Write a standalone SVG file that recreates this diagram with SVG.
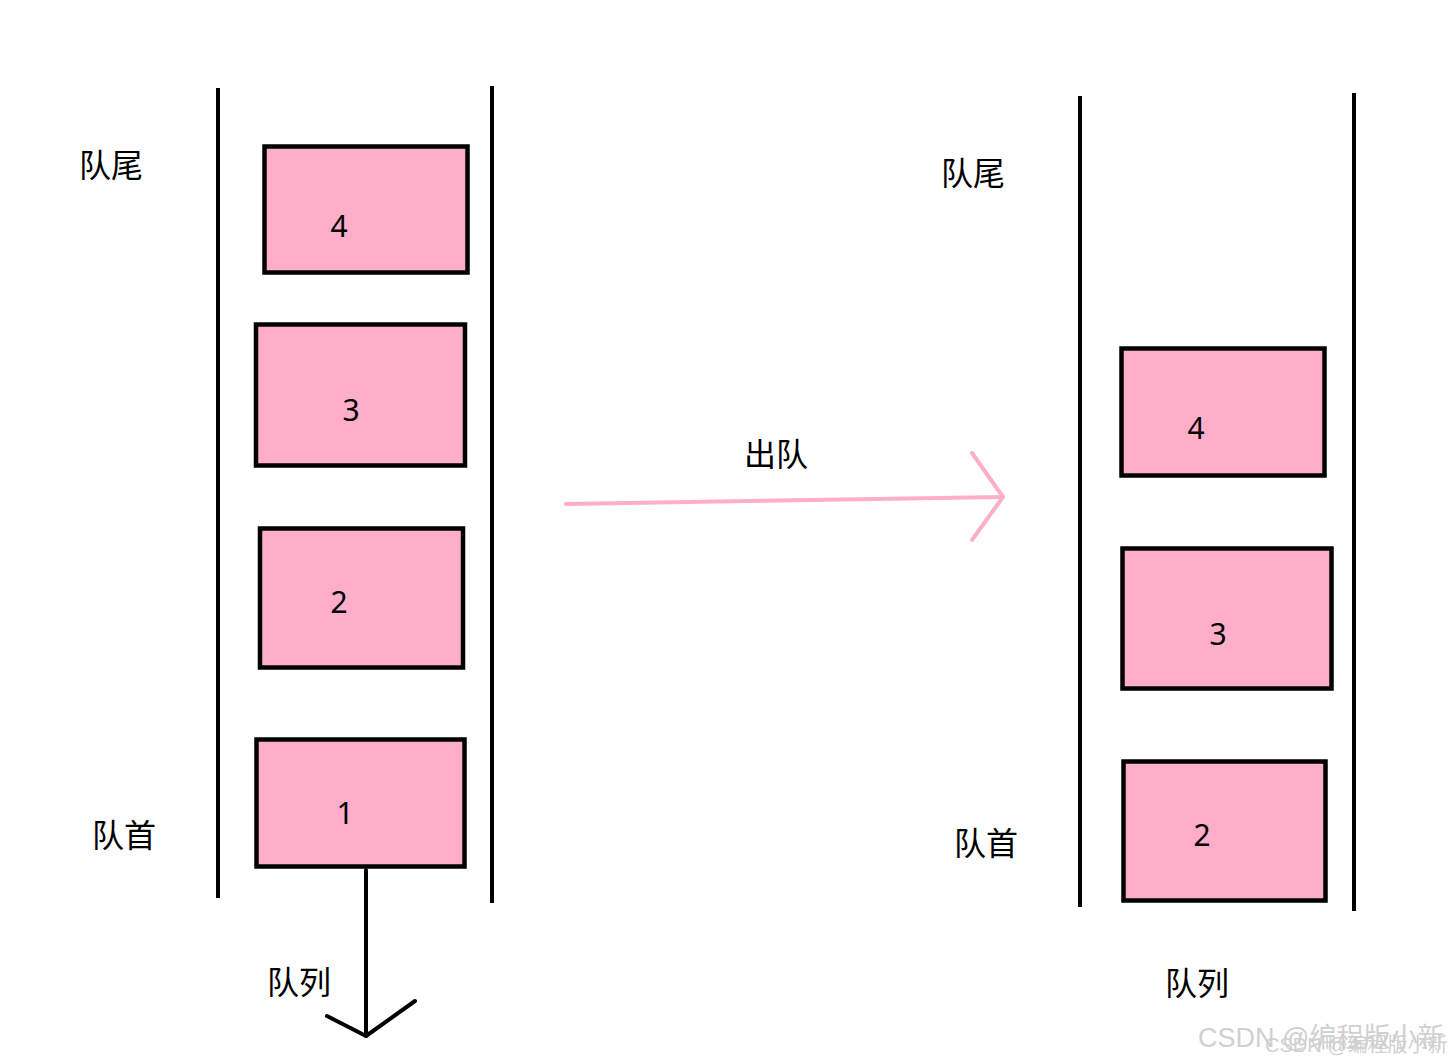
<svg xmlns="http://www.w3.org/2000/svg" width="1452" height="1064" viewBox="0 0 1452 1064">
<style>
.box{fill:#FFAEC9;stroke:#000;stroke-width:4.5}
.wall{stroke:#000;stroke-width:4;fill:none}
.lbl{font-family:"Noto Sans CJK SC","Noto Sans",sans-serif;font-size:32px;fill:#000}
.num{font-family:"Noto Sans","DejaVu Sans",sans-serif;font-size:30px;fill:#000;text-anchor:middle}
.wm{font-family:"Liberation Sans","Noto Sans CJK SC",sans-serif;fill:#d0d0d0}
</style>
<rect width="1452" height="1064" fill="#fff"/>
<g id="walls">
<line class="wall" x1="218" y1="88" x2="218" y2="898"/>
<line class="wall" x1="492" y1="86" x2="492" y2="903"/>
<line class="wall" x1="1080" y1="96" x2="1080" y2="907"/>
<line class="wall" x1="1354" y1="93" x2="1354" y2="911"/>
</g>
<g id="L4"><rect class="box" x="264.5" y="146.5" width="203" height="126"/><text class="num" x="339" y="237">4</text></g>
<g id="L3"><rect class="box" x="256" y="324.5" width="209" height="141"/><text class="num" x="351" y="421">3</text></g>
<g id="L2"><rect class="box" x="260" y="528.5" width="203" height="139"/><text class="num" x="339" y="613">2</text></g>
<g id="L1"><rect class="box" x="256.5" y="739.5" width="208" height="127"/><text class="num" x="345" y="824">1</text></g>
<g id="R4"><rect class="box" x="1121.5" y="348.5" width="203" height="127"/><text class="num" x="1196" y="439">4</text></g>
<g id="R3"><rect class="box" x="1122.5" y="548.5" width="209" height="140"/><text class="num" x="1218" y="645">3</text></g>
<g id="R2"><rect class="box" x="1123.5" y="761.5" width="202" height="139"/><text class="num" x="1202" y="846">2</text></g>
<g id="labels">
<text class="lbl" x="79" y="177">队尾</text>
<text class="lbl" x="92" y="847">队首</text>
<text class="lbl" x="267" y="994">队列</text>
<text class="lbl" x="941" y="185">队尾</text>
<text class="lbl" x="954" y="855">队首</text>
<text class="lbl" x="1165" y="995">队列</text>
<text class="lbl" x="744" y="466">出队</text>
</g>
<g id="connectors" fill="none" stroke-linecap="round" stroke-linejoin="round">
<path d="M566 504 L1003 497" stroke="#FFAEC9" stroke-width="4"/>
<path d="M972 453 L1003 497 L972 540" stroke="#FFAEC9" stroke-width="4"/>
<path d="M366 870 L366 1036" stroke="#000" stroke-width="4"/>
<path d="M327 1016 L366 1036 L415 1001" stroke="#000" stroke-width="4"/>
</g>
<g id="watermark">
<text class="wm" x="1198" y="1047" font-size="27">CSDN @编程版小新</text>
<text class="wm" x="1265" y="1052" font-size="20" fill="#bbb">CSDN @编程版小新</text>
</g>
</svg>
